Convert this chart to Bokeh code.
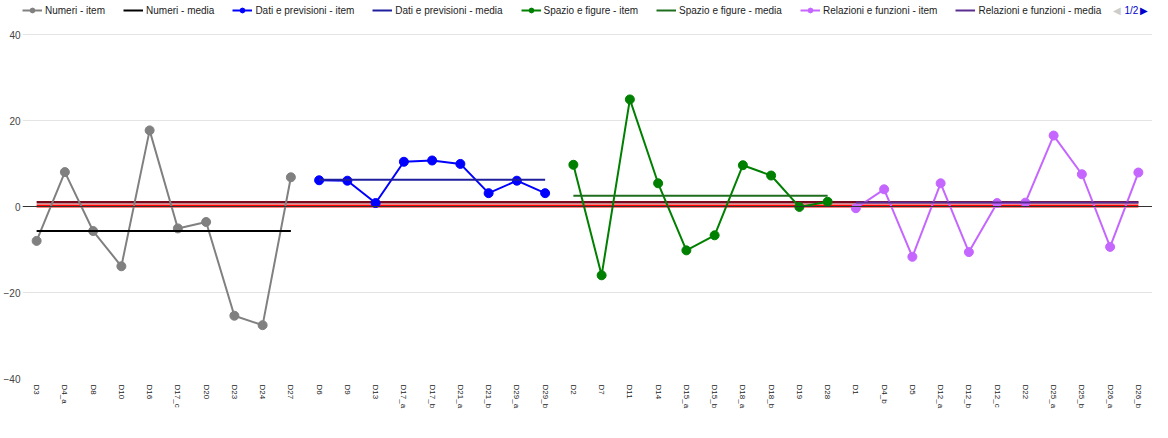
from bokeh.plotting import figure
from bokeh.models import FactorRange, Legend, LegendItem, Span, FixedTicker, Label
from bokeh.embed import file_html
from bokeh.resources import INLINE

# ---------------- data ----------------
numeri_items = ["D3", "D4_a", "D8", "D10", "D16", "D17_c", "D20", "D23", "D24", "D27"]
numeri_vals = [-8.0, 8.0, -5.7, -13.9, 17.7, -5.1, -3.6, -25.4, -27.6, 6.8]
numeri_media = -5.7

dati_items = ["D6", "D9", "D13", "D17_a", "D17_b", "D21_a", "D21_b", "D29_a", "D29_b"]
dati_vals = [6.1, 6.0, 0.8, 10.4, 10.7, 9.9, 3.1, 6.0, 3.1]
dati_media = 6.2

spazio_items = ["D2", "D7", "D11", "D14", "D15_a", "D15_b", "D18_a", "D18_b", "D19", "D28"]
spazio_vals = [9.7, -16.0, 24.9, 5.4, -10.2, -6.7, 9.6, 7.2, -0.1, 1.1]
spazio_media = 2.5

rel_items = ["D1", "D4_b", "D5", "D12_a", "D12_b", "D12_c", "D22", "D25_a", "D25_b", "D26_a", "D26_b"]
rel_vals = [-0.4, 4.0, -11.7, 5.4, -10.6, 0.8, 0.9, 16.5, 7.5, -9.4, 7.9]
rel_media = 0.95

media_totale = 1.0       # dark red line across all items
riferimento = 0.1        # red line across all items

y_ticks = [-40, -20, 0, 20, 40]

groups = [
    ("Numeri", numeri_items, numeri_vals, numeri_media, "#808080", "#000000"),
    ("Dati e previsioni", dati_items, dati_vals, dati_media, "#0000ff", "#1f1f9e"),
    ("Spazio e figure", spazio_items, spazio_vals, spazio_media, "#008000", "#1e6e1e"),
    ("Relazioni e funzioni", rel_items, rel_vals, rel_media, "#c466ff", "#5b2d91"),
]

all_items = numeri_items + dati_items + spazio_items + rel_items

FONT = "Liberation Sans"

# frame: canvas y 0..378 ; value 40 at canvas 34, -40 at 378
Y_TOP = 40 + 34 * 80 / 344

p = figure(
    width=1152, height=422,
    x_range=FactorRange(factors=all_items, range_padding=0),
    y_range=(-40, Y_TOP),
    output_backend="svg", toolbar_location=None,
    min_border_left=21, min_border_right=0, min_border_top=0, min_border_bottom=44,
)
p.outline_line_color = None
p.background_fill_color = "white"
p.border_fill_color = "white"

# axes
p.yaxis.ticker = FixedTicker(ticks=y_ticks)
p.yaxis.axis_line_color = None
p.yaxis.major_tick_line_color = None
p.yaxis.minor_tick_line_color = None
p.yaxis.major_tick_out = 0
p.yaxis.major_tick_in = 0
p.yaxis.major_label_text_font = FONT
p.yaxis.major_label_text_font_size = "10px"
p.yaxis.major_label_text_color = "#444444"
p.yaxis.major_label_standoff = 2

p.xaxis.axis_line_color = None
p.xaxis.major_tick_line_color = None
p.xaxis.major_tick_out = 0
p.xaxis.major_tick_in = 0
p.xaxis.major_label_orientation = "vertical"
p.xaxis.major_label_text_font = FONT
p.xaxis.major_label_text_font_size = "8px"
p.xaxis.major_label_text_color = "#222222"
p.xaxis.major_label_standoff = 6

p.xgrid.grid_line_color = None
p.ygrid.grid_line_color = "#e4e4e4"
p.ygrid.grid_line_width = 1

# baseline at 0
p.add_layout(Span(location=0, dimension="width", line_color="#333333", line_width=1))

# reference lines across all items
first, last = all_items[0], all_items[-1]
p.line([first, last], [media_totale, media_totale], line_color="#7a0a1e", line_width=2.5)
p.line([first, last], [riferimento, riferimento], line_color="#ff0000", line_width=3)

legend_items = []
for name, items, vals, media, c_item, c_media in groups:
    l = p.line(items, vals, line_color=c_item, line_width=2)
    s = p.scatter(items, vals, size=9, color=c_item)
    m = p.line([items[0], items[-1]], [media, media], line_color=c_media, line_width=2)
    legend_items.append(LegendItem(label=f"{name} - item", renderers=[l, s]))
    legend_items.append(LegendItem(label=f"{name} - media", renderers=[m]))

legend = Legend(
    items=legend_items, orientation="horizontal", location=(0, 362),
    border_line_color=None, background_fill_alpha=0,
    label_text_font=FONT, label_text_font_size="10px", label_text_color="#222222",
    glyph_width=20, glyph_height=12, label_standoff=3, spacing=18,
    padding=0, margin=0, label_height=12,
)
p.add_layout(legend, "center")

# pagination indicator of the legend
p.add_layout(Label(x=1090, y=363, x_units="screen", y_units="screen", text="◀",
                   text_font=FONT, text_font_size="10px", text_color="#cccccc"))
p.add_layout(Label(x=1102, y=363, x_units="screen", y_units="screen", text="1/2",
                   text_font=FONT, text_font_size="10px", text_color="#0000cc"))
p.add_layout(Label(x=1117, y=363, x_units="screen", y_units="screen", text="▶",
                   text_font=FONT, text_font_size="10px", text_color="#0000cc"))

open("out.html", "w").write(file_html(p, INLINE))
